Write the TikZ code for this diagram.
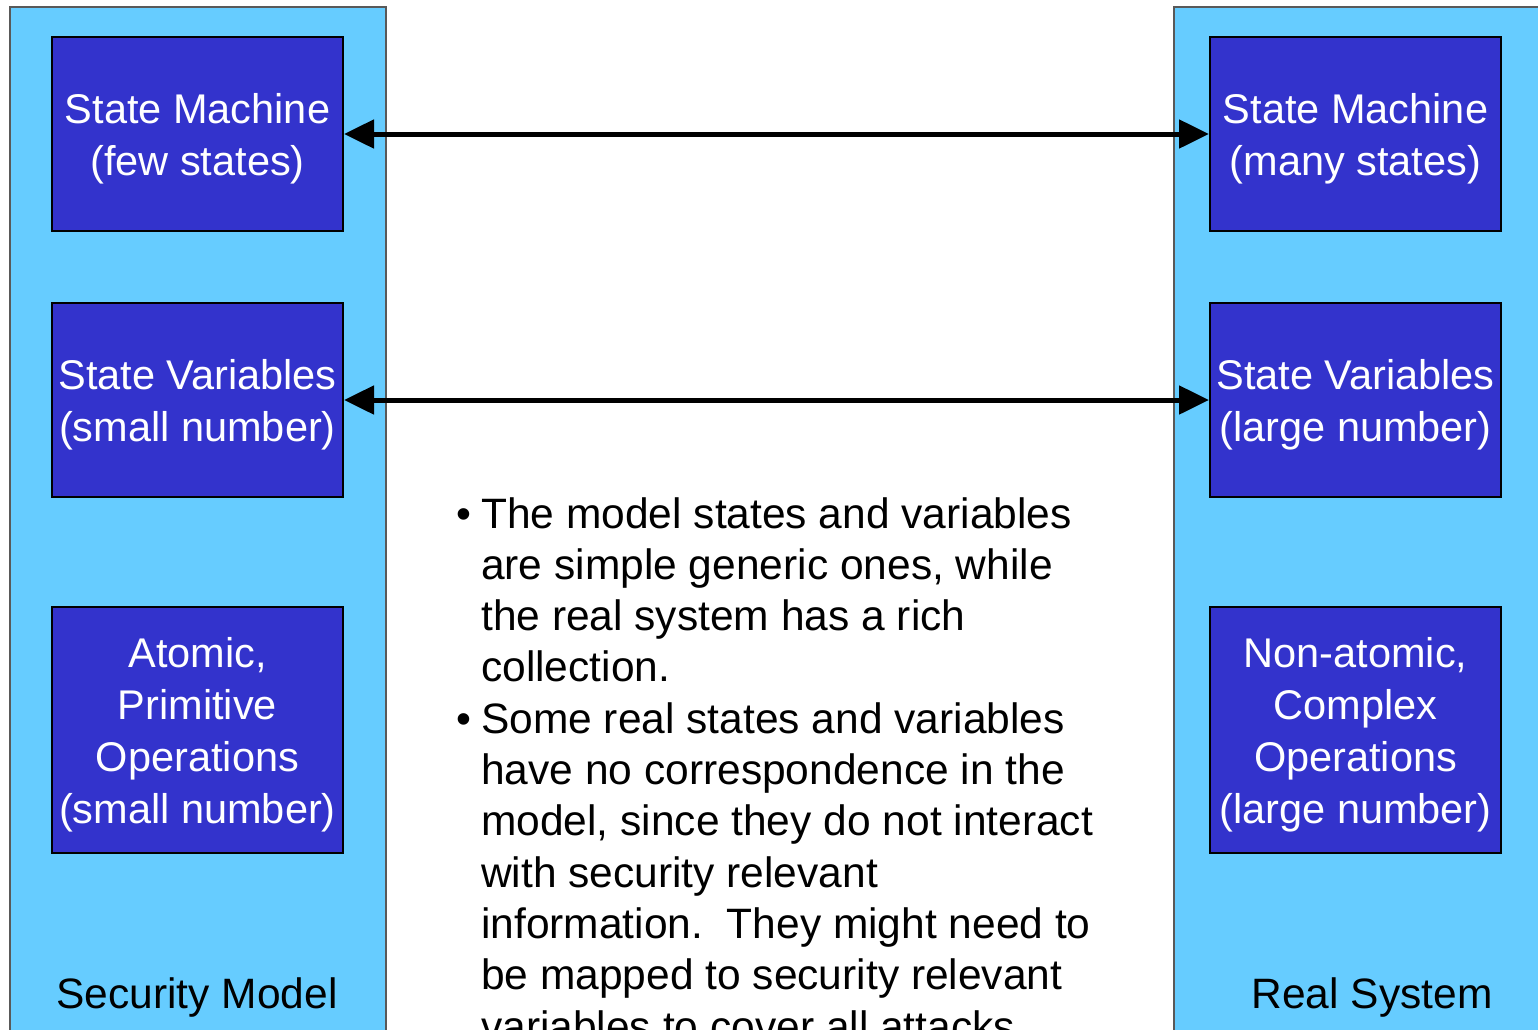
\documentclass[tikz,border=0pt]{standalone}
\usepackage{fontspec}
\setmainfont{Liberation Sans}
\usetikzlibrary{arrows.meta}
\definecolor{panelblue}{HTML}{66CCFF}
\definecolor{boxblue}{HTML}{3333CC}
\begin{document}
\begin{tikzpicture}[x=1pt,y=-1pt,
  panel/.style={draw=black!65, line width=1.5pt, fill=panelblue},
  inbox/.style={draw=black, line width=2pt, fill=boxblue, text=white,
    minimum width=291pt, align=center, inner sep=0pt, text depth=0pt,
    font=\fontsize{41.5}{52}\selectfont},
  lbl/.style={anchor=base, inner sep=0pt, font=\fontsize{42.5}{52}\selectfont},
  para/.style={anchor=base west, align=left, inner sep=0pt,
    font=\fontsize{42.5}{51.3}\selectfont},
  link/.style={line width=5pt, {Triangle[length=30pt,width=28pt]}-{Triangle[length=30pt,width=28pt]}}]
\useasboundingbox (0,0) rectangle (1538,1029);
\clip (0,0) rectangle (1538,1029);
\fill[white] (0,0) rectangle (1538,1029);
% panels
\draw[panel] (10,7) rectangle (386,1045);
\draw[panel] (1174,7) rectangle (1550,1045);
% boxes
\node[inbox, minimum height=194pt] (lsm) at (197.5,134) {State Machine\\(few states)};
\node[inbox, minimum height=194pt] (lsv) at (197.5,400) {State Variables\\(small number)};
\node[inbox, minimum height=246pt] (lop) at (197.5,730) {Atomic,\\Primitive\\Operations\\(small number)};
\node[inbox, minimum height=194pt] (rsm) at (1355.5,134) {State Machine\\(many states)};
\node[inbox, minimum height=194pt] (rsv) at (1355.5,400) {State Variables\\(large number)};
\node[inbox, minimum height=246pt] (rop) at (1355.5,730) {Non-atomic,\\Complex\\Operations\\(large number)};
% labels
\node[lbl] (lmodel) at (197,1008) {Security Model};
\node[lbl] (lreal) at (1372,1008) {Real System};
% connectors
\draw[link] (lsm.east) -- (rsm.west);
\draw[link] (lsv.east) -- (rsv.west);
% bullet text (base anchor = last line's baseline)
\node[para] (b1) at (456,528) {\textbullet};
\node[para] (p1) at (481,681.9) {The model states and variables\\are simple generic ones, while\\the real system has a rich\\collection.};
\node[para] (b2) at (456,733.2) {\textbullet};
\node[para] (p2) at (481,1041) {Some real states and variables\\have no correspondence in the\\model, since they do not interact\\with security relevant\\information.\ \ They might need to\\be mapped to security relevant\\variables to cover all attacks.};
\end{tikzpicture}
\end{document}
